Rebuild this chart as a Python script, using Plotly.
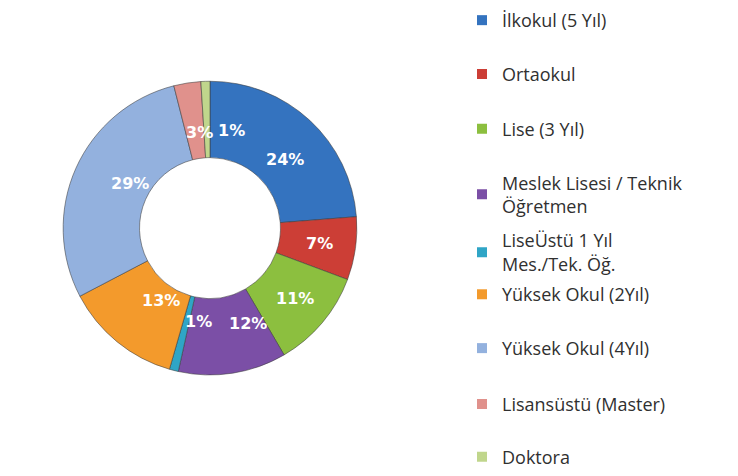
import math
import plotly.graph_objects as go

# ---- data ----
categories = [
    "İlkokul (5 Yıl)",
    "Ortaokul",
    "Lise (3 Yıl)",
    "Meslek Lisesi / Teknik<br>Öğretmen",
    "LiseÜstü 1 Yıl<br>Mes./Tek. Öğ.",
    "Yüksek Okul (2Yıl)",
    "Yüksek Okul (4Yıl)",
    "Lisansüstü (Master)",
    "Doktora",
]
values = [24, 7, 11, 12, 1, 13, 29, 3, 1]

# ---- styles ----
colors = ["#3473BF", "#CC3E36", "#8CBF3F", "#7B4FA6", "#2FA5C6",
          "#F39A2C", "#93B1DE", "#E0918C", "#C0D68C"]
legend_line_centers = [15, 70, 126, 181, 240, 295, 350, 407, 461]
label_xshift = [0, 0, 0, 0, 0, 0, 0, -9, 9]

W, H = 738, 476
cx, cy, D = 210, 233, 300
HOLE = 0.48

fig = go.Figure()
fig.add_trace(go.Pie(
    labels=categories,
    values=values,
    sort=False,
    direction="clockwise",
    rotation=0,
    hole=HOLE,
    marker=dict(colors=colors, line=dict(color="rgba(60,60,60,0.55)", width=1)),
    textinfo="none",
    showlegend=False,
    hoverinfo="label+percent",
    domain=dict(x=[(cx - D / 2) / W, (cx + D / 2) / W],
                y=[(H - cy - D / 2) / H, (H - cy + D / 2) / H]),
))

# percentage labels at the middle of the ring, at each slice's mid angle
total = sum(values)
r_mid = D / 2 * (1 + HOLE) / 2
annotations = []
cum = 0
for v, dx in zip(values, label_xshift):
    theta = 2 * math.pi * (cum + v / 2) / total
    cum += v
    px = cx + r_mid * math.sin(theta)
    py = cy - r_mid * math.cos(theta)
    annotations.append(dict(
        x=px / W, y=1 - py / H, xref="paper", yref="paper",
        text=f"{v}%", showarrow=False, xshift=dx,
        font=dict(family="DejaVu Sans", size=16, color="white", weight="bold"),
    ))

layout_legends = {}
for i, (name, col) in enumerate(zip(categories, colors)):
    key = "legend" if i == 0 else f"legend{i + 1}"
    fig.add_trace(go.Scatter(
        x=[None], y=[None], mode="markers", name=name,
        marker=dict(symbol="square", size=10, color=col),
        legend=key, showlegend=True, hoverinfo="skip",
    ))
    layout_legends[key] = dict(
        x=462 / W, xanchor="left",
        y=1 - (legend_line_centers[i] - 13) / H, yanchor="top",
        bgcolor="rgba(0,0,0,0)", borderwidth=0,
        font=dict(family="Open Sans", size=18, color="#303030"),
        itemclick=False, itemdoubleclick=False,
    )

fig.update_layout(
    width=W, height=H,
    margin=dict(l=0, r=0, t=0, b=0),
    paper_bgcolor="white", plot_bgcolor="white",
    xaxis=dict(visible=False), yaxis=dict(visible=False),
    annotations=annotations,
    **layout_legends,
)

fig.write_html("out.html")
